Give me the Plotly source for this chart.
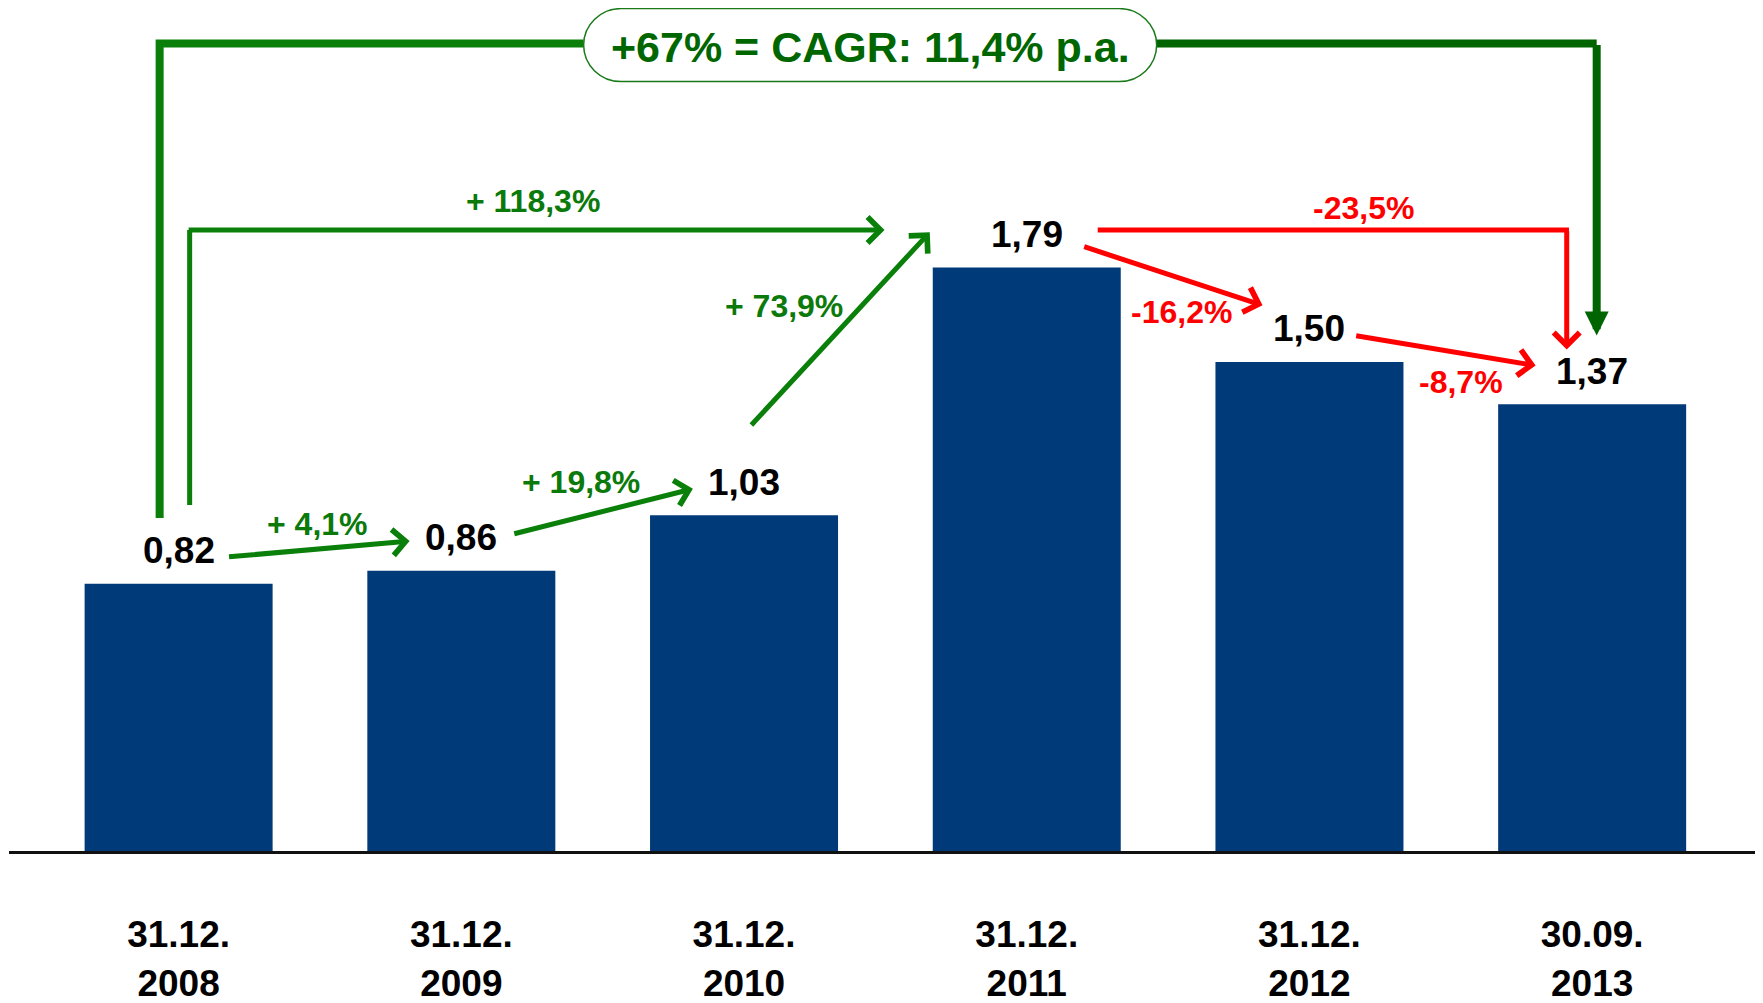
import plotly.graph_objects as go

FONT = "Liberation Sans, Arial, sans-serif"
BAR_COLOR = "#003a78"
GREEN = "#0a800a"
GREEN_TEXT = "#0b7a0b"
DARK_GREEN = "#006400"
RED = "#ff0000"

# data
dates = ["31.12.<br>2008", "31.12.<br>2009", "31.12.<br>2010",
         "31.12.<br>2011", "31.12.<br>2012", "30.09.<br>2013"]
values = [0.82, 0.86, 1.03, 1.79, 1.50, 1.37]
changes = ["+ 4,1%", "+ 19,8%", "+ 73,9%", "+ 118,3%", "-16,2%", "-23,5%", "-8,7%"]
cagr_text = "+67% = CAGR: 11,4% p.a."

xs = list(range(len(values)))

# where each change label sits and its colour (layout only)
change_pos = [(0.492, 1.003), (1.424, 1.131), (2.140, 1.671), (1.254, 1.994),
              (3.548, 1.652), (4.192, 1.972), (4.535, 1.440)]
change_col = [GREEN_TEXT] * 4 + [RED] * 3


def arrow(x0, y0, x1, y1, color, width=5, head=4, size=1.0):
    return dict(x=x1, y=y1, ax=x0, ay=y0, xref="x", yref="y", axref="x", ayref="y",
                text="", showarrow=True, arrowhead=head, arrowsize=size,
                arrowwidth=width, arrowcolor=color, standoff=0)


fig = go.Figure()
fig.add_trace(go.Bar(x=xs, y=values, width=0.665, marker=dict(color=BAR_COLOR, line_width=0),
                     hoverinfo="skip"))

annotations = []
for x, v in zip(xs, values):
    annotations.append(dict(x=x, y=v, xref="x", yref="y", yanchor="middle", yshift=33,
                            text=f"{v:.2f}".replace(".", ","), showarrow=False,
                            font=dict(family=FONT, size=37, color="black", weight="bold")))

for t, (px_, py_), c in zip(changes, change_pos, change_col):
    annotations.append(dict(x=px_, y=py_, xref="x", yref="y", text=t, showarrow=False,
                            font=dict(family=FONT, size=32, color=c, weight="bold")))

# arrows between bars
annotations += [
    arrow(0.173, 0.902, 0.817, 0.951, GREEN),
    arrow(1.182, 0.972, 1.819, 1.111, GREEN),
    arrow(2.021, 1.302, 2.657, 1.898, GREEN),
    arrow(0.030, 1.905, 2.497, 1.905, GREEN),
    arrow(3.198, 1.855, 3.834, 1.674, RED),
    arrow(4.160, 1.5815, 4.800, 1.489, RED),
    arrow(4.910, 1.905, 4.910, 1.538, RED),
    arrow(5.016, 2.477, 5.016, 1.5815, DARK_GREEN, width=8, head=2, size=0.6),
]

# CAGR pill box
x0, x1, y0, y1 = 1.4326, 3.4595, 2.36, 2.584
rx, ry, k = 0.1327, (y1 - y0) / 2, 0.5523
ym = (y0 + y1) / 2
pill = (f"M{x0 + rx},{y1} L{x1 - rx},{y1} "
        f"C{x1 - rx + k * rx},{y1} {x1},{ym + k * ry} {x1},{ym} "
        f"C{x1},{ym - k * ry} {x1 - rx + k * rx},{y0} {x1 - rx},{y0} "
        f"L{x0 + rx},{y0} "
        f"C{x0 + rx - k * rx},{y0} {x0},{ym - k * ry} {x0},{ym} "
        f"C{x0},{ym + k * ry} {x0 + rx - k * rx},{y1} {x0 + rx},{y1} Z")
annotations.append(dict(x=(x0 + x1) / 2, y=ym, xref="x", yref="y", text=cagr_text,
                        showarrow=False, yshift=-2,
                        font=dict(family=FONT, size=43, color="#006600", weight="bold")))

shapes = [
    dict(type="path", path=f"M-0.0672,1.0215 L-0.0672,2.477 L{x0},2.477",
         line=dict(color=GREEN, width=8)),
    dict(type="path", path=f"M{x1},2.477 L5.016,2.477", line=dict(color=DARK_GREEN, width=8)),
    dict(type="path", path=pill, fillcolor="white", line=dict(color="#1a7a1a", width=1.5)),
    dict(type="path", path="M0.039,1.0615 L0.039,1.905", line=dict(color=GREEN, width=5)),
    dict(type="path", path="M3.251,1.905 L4.918,1.905", line=dict(color=RED, width=5)),
]

# figure sized to the page area inside the browser's 8px body margin
fig.update_layout(
    width=1747, height=996,
    margin=dict(l=1, r=0, t=0, b=148),
    paper_bgcolor="white", plot_bgcolor="white",
    showlegend=False,
    annotations=annotations,
    shapes=shapes,
    xaxis=dict(range=[-0.6, 5.576], tickvals=xs, ticktext=dates, ticks="",
               tickfont=dict(family=FONT, size=37, color="black", weight="bold"),
               ticklabelstandoff=49, showline=True, linecolor="#111111", linewidth=3,
               showgrid=False, zeroline=False, fixedrange=True),
    yaxis=dict(range=[0, 2.5858], visible=False, showgrid=False, zeroline=False),
)

fig.write_html("out.html")
